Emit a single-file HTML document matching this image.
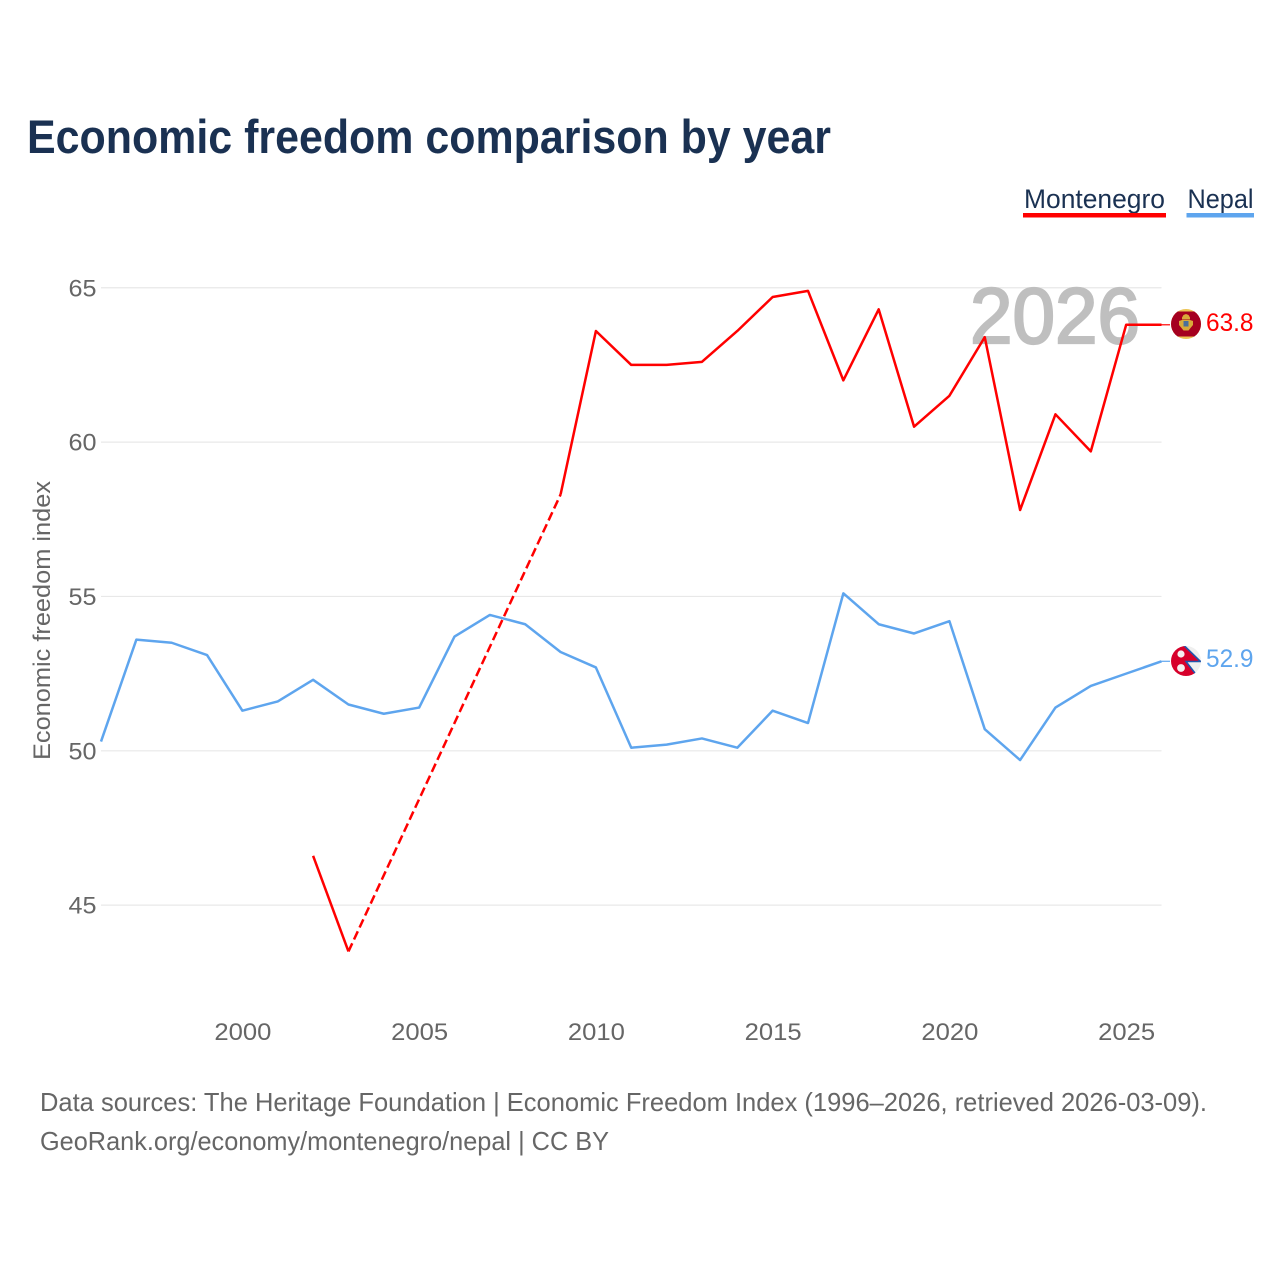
<!DOCTYPE html>
<html lang="en">
<head>
<meta charset="utf-8">
<title>Economic freedom comparison by year</title>
<style>
html,body{margin:0;padding:0;background:#fff;}
svg{display:block;font-family:"Liberation Sans",sans-serif;}
</style>
</head>
<body>
<svg id="chart" width="1280" height="1280" viewBox="0 0 1280 1280" xmlns="http://www.w3.org/2000/svg">
  <defs>
    <clipPath id="clip-me"><circle cx="1186" cy="324" r="15"/></clipPath>
    <clipPath id="clip-np"><circle cx="1186" cy="661" r="15"/></clipPath>
  </defs>
  <rect width="1280" height="1280" fill="#fff"/>
  <text x="27" y="153" font-size="47" font-weight="700" fill="#1a3152" textLength="804" lengthAdjust="spacingAndGlyphs">Economic freedom comparison by year</text>

  <g>
    <text x="1024" y="208" font-size="27" fill="#1a3152" textLength="141" lengthAdjust="spacingAndGlyphs">Montenegro</text>
    <rect x="1023" y="213" width="143" height="4.5" fill="#ff0000"/>
  </g>
  <g>
    <text x="1187.5" y="208" font-size="27" fill="#1a3152" textLength="66" lengthAdjust="spacingAndGlyphs">Nepal</text>
    <rect x="1186.5" y="213" width="67.5" height="4.5" fill="#5ea5ee"/>
  </g>

  <g id="grid"></g>
  <g id="yticks"></g>
  <g id="xticks"></g>
  <text transform="translate(50,760) rotate(-90)" font-size="24.5" fill="#666" textLength="279" lengthAdjust="spacingAndGlyphs">Economic freedom index</text>

  <text x="970" y="343" font-size="79" font-weight="400" fill="#bfbfbf" stroke="#bfbfbf" stroke-width="2.2" textLength="170" lengthAdjust="spacingAndGlyphs">2026</text>

  <g id="series"></g>

  <g clip-path="url(#clip-me)">
    <rect x="1170" y="308" width="32" height="32" fill="#ecc454"/>
    <rect x="1170" y="311.5" width="32" height="25" fill="#a5001f"/>
    <path d="M1182 317.5 l1.5 -2.5 2.5 -1 2.5 1 1.5 2.5 v2 h-8z" fill="#d9a93a"/>
    <path d="M1182 320 h8 l3 1 v4 l-2.5 3 -2 2.5 h-5 l-2 -2.5 -2.5 -3 v-4z" fill="#d9a93a"/>
    <rect x="1183.5" y="321" width="5" height="5.5" fill="#4a6f9c"/>
  </g>
  <g clip-path="url(#clip-np)">
    <rect x="1170" y="645" width="32" height="32" fill="#efefef"/>
    <path d="M1183.5 645 L1200.5 661.5 L1186 661.5 L1198 677 L1170 678 L1170 645 Z" fill="#d7002b"/>
    <path d="M1183.5 645 L1200.5 661.5 L1186 661.5 L1198 677" fill="none" stroke="#1f55ad" stroke-width="1.6"/>
    <circle cx="1181" cy="654" r="3.6" fill="#f5f0f0"/>
    <circle cx="1181" cy="668" r="3.9" fill="#f5f0f0"/>
  </g>

  <text id="value-montenegro" x="1206" y="331" font-size="25" fill="#ff0000" textLength="47.5" lengthAdjust="spacingAndGlyphs"></text>
  <text id="value-nepal" x="1206" y="667" font-size="25" fill="#5ea5ee" textLength="47.5" lengthAdjust="spacingAndGlyphs"></text>

  <text x="40" y="1111" font-size="26" fill="#666" textLength="1167" lengthAdjust="spacingAndGlyphs">Data sources: The Heritage Foundation | Economic Freedom Index (1996–2026, retrieved 2026-03-09).</text>
  <text x="40" y="1150" font-size="26" fill="#666" textLength="569" lengthAdjust="spacingAndGlyphs">GeoRank.org/economy/montenegro/nepal | CC BY</text>
</svg>
<script>
const years = [1996,1997,1998,1999,2000,2001,2002,2003,2004,2005,2006,2007,2008,2009,2010,2011,2012,2013,2014,2015,2016,2017,2018,2019,2020,2021,2022,2023,2024,2025,2026];
const montenegro = [null,null,null,null,null,null,46.6,43.5,null,null,null,null,null,58.3,63.6,62.5,62.5,62.6,63.6,64.7,64.9,62.0,64.3,60.5,61.5,63.4,57.8,60.9,59.7,63.8,63.8];
const nepal = [50.3,53.6,53.5,53.1,51.3,51.6,52.3,51.5,51.2,51.4,53.7,54.4,54.1,53.2,52.7,50.1,50.2,50.4,50.1,51.3,50.9,55.1,54.1,53.8,54.2,50.7,49.7,51.4,52.1,52.5,52.9];
const yTickLabels = [45,50,55,60,65];
const xTickLabels = [2000,2005,2010,2015,2020,2025];

const NS = 'http://www.w3.org/2000/svg';
function xScale(year) { return 101 + (year - 1996) * (1161.5 - 101) / 30; }
function yScale(value) { return 750.8 - (value - 50) * 30.87; }

const grid = document.getElementById('grid');
const yticks = document.getElementById('yticks');
const xticks = document.getElementById('xticks');
const series = document.getElementById('series');

yTickLabels.forEach(function (t) {
  const line = document.createElementNS(NS, 'line');
  
  
  line.setAttribute('x1', xScale(1996));
  line.setAttribute('x2', xScale(2026));
  line.setAttribute('y1', yScale(t));
  line.setAttribute('y2', yScale(t));
  line.setAttribute('stroke', '#e8e8e8');
  line.setAttribute('stroke-width', '1.2');
  grid.appendChild(line);
  const label = document.createElementNS(NS, 'text');
  
  
  label.setAttribute('x', 96.5);
  label.setAttribute('y', yScale(t) + 8.5);
  label.setAttribute('text-anchor', 'end');
  label.setAttribute('font-size', '24');
  label.setAttribute('fill', '#666');
  label.setAttribute('textLength', '28');
  label.setAttribute('lengthAdjust', 'spacingAndGlyphs');
  label.textContent = t;
  yticks.appendChild(label);
});

xTickLabels.forEach(function (t) {
  const label = document.createElementNS(NS, 'text');
  
  
  label.setAttribute('x', xScale(t) + 0.5);
  label.setAttribute('y', 1040);
  label.setAttribute('text-anchor', 'middle');
  label.setAttribute('font-size', '24');
  label.setAttribute('fill', '#666');
  label.setAttribute('textLength', '57');
  label.setAttribute('lengthAdjust', 'spacingAndGlyphs');
  label.textContent = t;
  xticks.appendChild(label);
});

function drawPath(points, color, dashed, name) {
  const path = document.createElementNS(NS, 'path');
  
  
  path.setAttribute('d', points.map(function (p, i) {
    return (i ? 'L' : 'M') + xScale(p[0]).toFixed(2) + ' ' + yScale(p[1]).toFixed(2);
  }).join(' '));
  path.setAttribute('fill', 'none');
  path.setAttribute('stroke', color);
  path.setAttribute('stroke-width', '2.5');
  path.setAttribute('stroke-linejoin', 'round');
  if (dashed) path.setAttribute('stroke-dasharray', '9 4.2');
  series.appendChild(path);
}

function drawSeries(values, color, name) {
  let run = [];
  let last = null;
  values.forEach(function (v, i) {
    if (v === null) return;
    const pt = [years[i], v];
    if (last && years[i] - last[0] > 1) {
      if (run.length > 1) drawPath(run, color, false, name + '-line');
      drawPath([last, pt], color, true, name + '-gap');
      run = [];
    }
    run.push(pt);
    last = pt;
  });
  if (run.length > 1) drawPath(run, color, false, name + '-line');
  const leader = document.createElementNS(NS, 'line');
  
  
  leader.setAttribute('x1', xScale(last[0]));
  leader.setAttribute('x2', xScale(last[0]) + 8.5);
  leader.setAttribute('y1', yScale(last[1]));
  leader.setAttribute('y2', yScale(last[1]));
  leader.setAttribute('stroke', color);
  leader.setAttribute('stroke-width', '1.2');
  series.appendChild(leader);
  return last[1];
}

document.getElementById('value-montenegro').textContent = drawSeries(montenegro, '#ff0000', 'montenegro').toFixed(1);
document.getElementById('value-nepal').textContent = drawSeries(nepal, '#5ea5ee', 'nepal').toFixed(1);
</script>
</body>
</html>
